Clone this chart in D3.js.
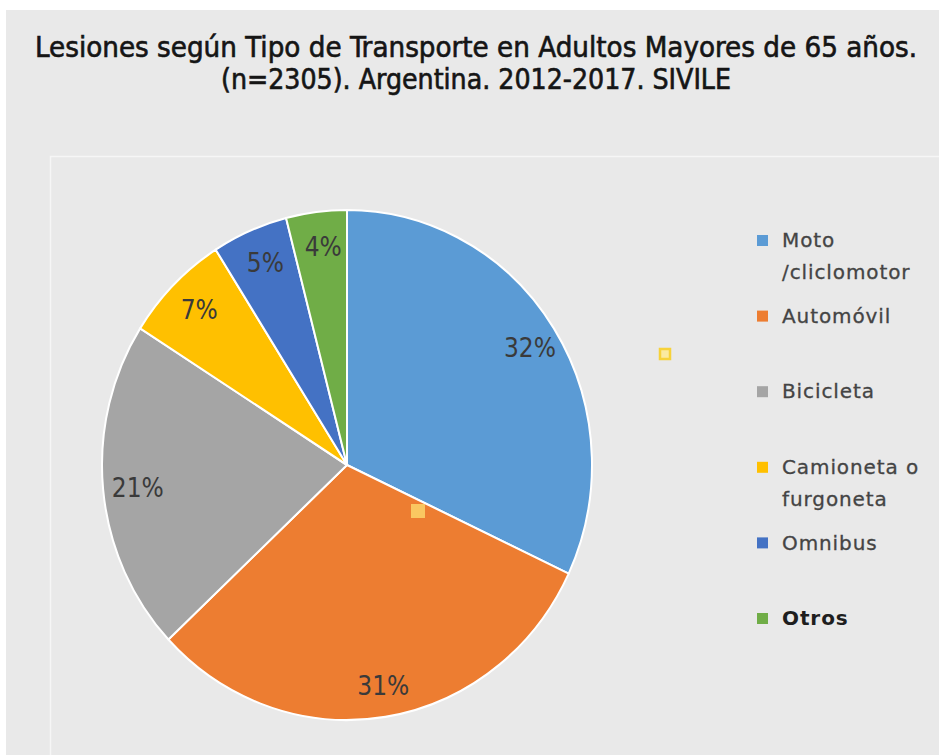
<!DOCTYPE html>
<html lang="es">
    <head>
        <meta charset="UTF-8">
        <script src="https://d3js.org/d3.v7.min.js"></script>
        <title>Lesiones según Tipo de Transporte</title>
        <style>
            body { margin: 0; background: #ffffff; }
        </style>
    </head>
    <body>
        <div id="container"></div>
    </body>
    <script>
        // datos
        const categories = ['Moto /cliclomotor', 'Automóvil', 'Bicicleta', 'Camioneta o furgoneta', 'Omnibus', 'Otros'];
        const legendLines = [['Moto', '/cliclomotor'], ['Automóvil'], ['Bicicleta'], ['Camioneta o', 'furgoneta'], ['Omnibus'], ['Otros']];
        const values = [32, 31, 21, 7, 5, 4];
        const titleLines = ['Lesiones según Tipo de Transporte en Adultos Mayores de 65 años.', '(n=2305). Argentina. 2012-2017. SIVILE'];

        const width = 939;
        const height = 755;
        const colors = ['#5b9bd5', '#ed7d31', '#a5a5a5', '#ffc000', '#4472c4', '#70ad47'];
        const condensed = '"Liberation Sans Narrow", "DejaVu Sans Condensed", sans-serif';

        const svg = d3.select('#container')
            .append('svg')
            .attr('width', width)
            .attr('height', height);

        // fondo del grafico
        svg.append('rect')
            .attr('x', 6).attr('y', 10)
            .attr('width', width - 6).attr('height', height - 10)
            .attr('fill', '#e9e9e9');

        svg.append('path')
            .attr('d', `M50.5,${height} V156.5 H${width}`)
            .attr('fill', 'none')
            .attr('stroke', '#f6f6f6')
            .attr('stroke-width', 1.5);

        // titulo
        const titleWidths = [882, 510];
        svg.append('g')
            .selectAll('text')
            .data(titleLines)
            .join('text')
            .attr('x', 476)
            .attr('y', (d, i) => 57 + i * 32)
            .attr('text-anchor', 'middle')
            .attr('textLength', (d, i) => titleWidths[i])
            .attr('lengthAdjust', 'spacingAndGlyphs')
            .style('font-family', condensed)
            .style('font-size', '28px')
            .style('font-weight', 'normal')
            .style('fill', '#151515')
            .style('stroke', '#151515')
            .style('stroke-width', 0.6)
            .text(d => d);

        // torta
        const cx = 347, cy = 465, r = 245, ry = 255;
        const pie = d3.pie().sort(null).value(d => d);
        const arcs = pie(values);
        const arc = d3.arc().innerRadius(0).outerRadius(r);
        const labelArc = d3.arc().innerRadius(r * 0.87).outerRadius(r * 0.87);

        const pieG = svg.append('g')
            .attr('transform', `translate(${cx},${cy}) scale(1,${ry / r})`);

        pieG.selectAll('path')
            .data(arcs)
            .join('path')
            .attr('d', arc)
            .attr('fill', (d, i) => colors[i])
            .attr('stroke', '#ffffff')
            .attr('stroke-width', 2)
            .attr('stroke-linejoin', 'round');

        svg.append('g')
            .selectAll('text')
            .data(arcs)
            .join('text')
            .attr('x', d => cx + labelArc.centroid(d)[0] + 3)
            .attr('y', d => cy + labelArc.centroid(d)[1] * ry / r + 2)
            .attr('dy', '0.35em')
            .attr('text-anchor', 'middle')
            .style('font-family', condensed)
            .style('font-size', '26px')
            .style('fill', '#3a3a3a')
            .text(d => d.data + '%');

        // marcas amarillas de seleccion
        svg.append('rect')
            .attr('x', 660).attr('y', 349).attr('width', 10).attr('height', 10)
            .attr('fill', '#fbeaa0').attr('stroke', '#f7d23a').attr('stroke-width', 2.5);
        svg.append('rect')
            .attr('x', 411).attr('y', 504).attr('width', 14).attr('height', 14)
            .attr('fill', '#fcd36a').attr('opacity', 0.85);

        // leyenda
        const legendY = d3.scaleLinear().domain([0, categories.length - 1]).range([240, 618]);
        const legend = svg.append('g')
            .selectAll('g')
            .data(legendLines)
            .join('g')
            .attr('transform', (d, i) => `translate(757,${legendY(i)})`);

        legend.append('rect')
            .attr('x', 0).attr('y', -5)
            .attr('width', 11).attr('height', 11)
            .attr('fill', (d, i) => colors[i]);

        legend.selectAll('text')
            .data((d, i) => d.map(t => ({ t: t, last: i === categories.length - 1 })))
            .join('text')
            .attr('x', 25)
            .attr('y', (d, j) => j * 32)
            .attr('dy', '0.36em')
            .style('font-family', '"DejaVu Sans", sans-serif')
            .style('font-size', '20px')
            .style('letter-spacing', '0.9px')
            .style('font-weight', d => d.last ? 'bold' : 'normal')
            .style('fill', d => d.last ? '#1e1e1e' : '#444444')
            .style('stroke', d => d.last ? 'none' : '#444444')
            .style('stroke-width', 0.3)
            .text(d => d.t);
    </script>
</html>
